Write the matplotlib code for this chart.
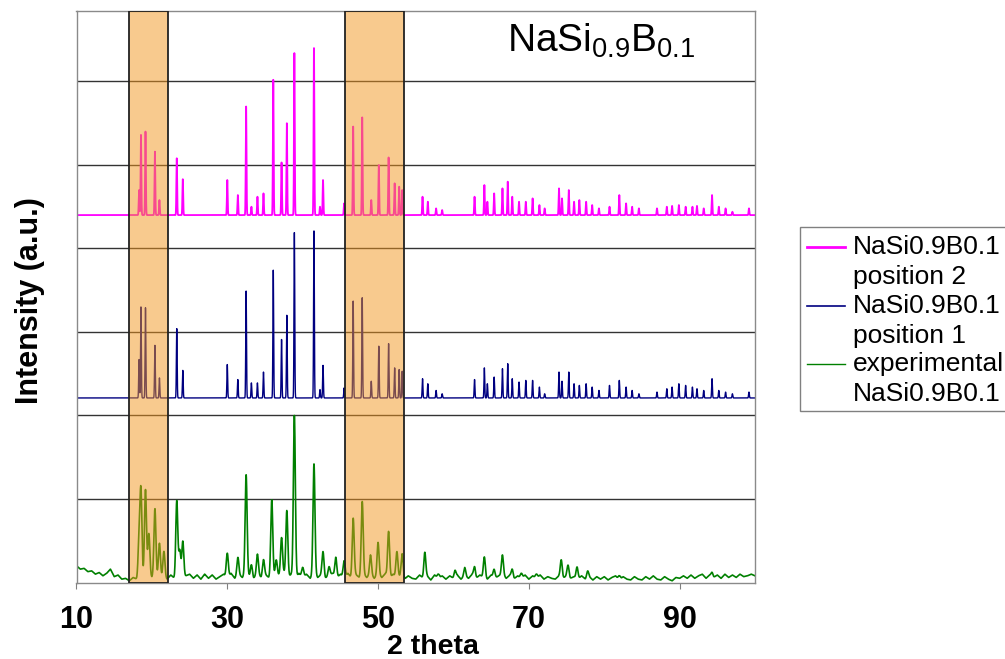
import numpy as np
import matplotlib
matplotlib.use("Agg")
import matplotlib.pyplot as plt
from matplotlib.lines import Line2D
from matplotlib.patches import Rectangle

plt.rcParams["font.family"] = ["Liberation Sans", "DejaVu Sans"]

# ---------------- data ----------------
# reflection positions (2 theta) shared by the two calculated patterns
calc_pos = [18.3, 18.55, 19.15, 20.4, 21.0, 23.3, 24.1, 30.0, 31.4, 32.5,
            33.2, 34.0, 34.8, 36.1, 37.2, 37.9, 38.9, 41.5, 42.3, 42.7,
            45.5, 46.7, 47.9, 49.1, 50.1, 51.4, 52.2, 52.8, 53.2, 55.9,
            56.6, 57.7, 58.5, 62.8, 64.1, 64.5, 65.4, 66.5, 67.2, 67.8,
            68.7, 69.6, 70.5, 71.4, 72.1, 74.0, 74.4, 75.3, 76.0, 76.7,
            77.6, 78.4, 79.3, 80.7, 82.0, 82.9, 83.7, 84.6, 87.0, 88.3,
            89.0, 89.9, 90.8, 91.7, 92.3, 93.2, 94.3, 95.2, 96.1, 97.0,
            99.2]

pos2_int = [0.30, 0.96, 1.00, 0.76, 0.18, 0.68, 0.43, 0.42, 0.24, 1.30,
            0.10, 0.22, 0.26, 1.62, 0.63, 1.10, 1.94, 2.00, 0.10, 0.42,
            0.14, 1.06, 1.17, 0.18, 0.60, 0.69, 0.38, 0.34, 0.30, 0.22,
            0.16, 0.08, 0.06, 0.22, 0.36, 0.16, 0.26, 0.32, 0.40, 0.22,
            0.16, 0.16, 0.20, 0.12, 0.08, 0.32, 0.20, 0.30, 0.16, 0.18,
            0.16, 0.12, 0.08, 0.10, 0.24, 0.14, 0.10, 0.08, 0.08, 0.10,
            0.11, 0.12, 0.10, 0.10, 0.11, 0.08, 0.24, 0.10, 0.08, 0.04,
            0.08]

pos1_int = [0.46, 1.09, 1.08, 0.63, 0.24, 0.83, 0.33, 0.40, 0.22, 1.28,
            0.18, 0.18, 0.31, 1.53, 0.70, 0.99, 1.98, 2.00, 0.10, 0.39,
            0.12, 1.16, 1.20, 0.20, 0.62, 0.65, 0.36, 0.34, 0.32, 0.23,
            0.17, 0.09, 0.05, 0.22, 0.36, 0.17, 0.25, 0.35, 0.41, 0.23,
            0.19, 0.21, 0.21, 0.13, 0.05, 0.31, 0.20, 0.31, 0.17, 0.15,
            0.17, 0.13, 0.09, 0.15, 0.21, 0.13, 0.09, 0.05, 0.07, 0.11,
            0.13, 0.17, 0.15, 0.13, 0.11, 0.09, 0.23, 0.09, 0.07, 0.05,
            0.07]

# measured pattern: peaks
exp_pos = [18.3, 18.55, 19.15, 19.6, 20.4, 21.0, 21.6, 23.3, 23.7, 24.1,
           30.0, 31.4, 32.5, 33.2, 34.0, 34.8, 35.9, 36.5, 37.2, 37.9,
           38.9, 40.0, 41.5, 42.7, 43.5, 44.4, 45.5, 46.7, 47.9, 49.0,
           50.0, 51.4, 52.5, 53.2, 56.2, 58.0, 60.2, 61.5, 62.8, 64.1,
           65.4, 66.5, 67.8, 69.0, 71.0, 74.3, 75.2, 76.4, 77.8, 82.0,
           94.3]
exp_int = [0.45, 1.00, 1.05, 0.50, 0.80, 0.42, 0.30, 0.90, 0.30, 0.43,
           0.29, 0.21, 1.17, 0.15, 0.23, 0.19, 0.89, 0.20, 0.43, 0.79,
           1.94, 0.12, 1.31, 0.29, 0.10, 0.24, 0.20, 0.70, 0.87, 0.23,
           0.38, 0.55, 0.31, 0.28, 0.30, 0.05, 0.08, 0.10, 0.12, 0.25,
           0.10, 0.23, 0.10, 0.06, 0.05, 0.21, 0.14, 0.14, 0.08, 0.05,
           0.05]

# measured pattern: background, every 0.5 deg from 10 to 100
exp_bg = [0.20, 0.16, 0.17, 0.13, 0.14, 0.10, 0.12, 0.08, 0.11, 0.16,
          0.07, 0.09, 0.04, 0.05, 0.02, 0.06, 0.04, 0.08, 0.05, 0.09,
          0.06, 0.09, 0.05, 0.08, 0.04, 0.09, 0.05, 0.10, 0.06, 0.08,
          0.10, 0.05, 0.09, 0.04, 0.10, 0.05, 0.09, 0.04, 0.07, 0.10,
          0.06, 0.11, 0.05, 0.10, 0.06, 0.12, 0.07, 0.05, 0.11, 0.06,
          0.10, 0.06, 0.11, 0.07, 0.10, 0.12, 0.06, 0.10, 0.05, 0.11,
          0.06, 0.10, 0.05, 0.11, 0.06, 0.10, 0.05, 0.09, 0.11, 0.05,
          0.10, 0.06, 0.11, 0.05, 0.10, 0.06, 0.11, 0.06, 0.10, 0.05,
          0.10, 0.06, 0.11, 0.05, 0.10, 0.06, 0.08, 0.04, 0.08, 0.05,
          0.04, 0.09, 0.05, 0.08, 0.03, 0.09, 0.05, 0.08, 0.04, 0.08,
          0.05, 0.09, 0.04, 0.08, 0.05, 0.10, 0.05, 0.09, 0.06, 0.04,
          0.09, 0.05, 0.08, 0.10, 0.05, 0.09, 0.04, 0.08, 0.05, 0.09,
          0.04, 0.08, 0.05, 0.09, 0.04, 0.07, 0.05, 0.04, 0.08, 0.05,
          0.08, 0.05, 0.07, 0.04, 0.08, 0.04, 0.07, 0.03, 0.07, 0.04,
          0.07, 0.03, 0.06, 0.08, 0.03, 0.07, 0.04, 0.03, 0.07, 0.04,
          0.03, 0.07, 0.04, 0.08, 0.04, 0.03, 0.07, 0.04, 0.02, 0.06,
          0.05, 0.08, 0.05, 0.09, 0.05, 0.08, 0.10, 0.05, 0.09, 0.06,
          0.09, 0.05, 0.10, 0.06, 0.09, 0.06, 0.10, 0.07, 0.08, 0.10,
          0.08]

offset_pos2 = 4.40
offset_pos1 = 2.21
regions = [(17.0, 22.2), (45.6, 53.5)]

labels = ["NaSi0.9B0.1\nposition 2", "NaSi0.9B0.1\nposition 1",
          "experimental\nNaSi0.9B0.1"]
colors = ["#ff00ff", "#000080", "#008000"]

# ---------------- profiles ----------------
tt = np.arange(10, 100.001, 0.01)


def profile(pos, inten, sigma):
    y = np.zeros_like(tt)
    for p, h in zip(pos, inten):
        y += h * np.exp(-0.5 * ((tt - p) / sigma) ** 2)
    return y


bg_x = np.arange(10, 100.001, 0.5)
y_pos2 = offset_pos2 + profile(calc_pos, pos2_int, 0.05)
y_pos1 = offset_pos1 + profile(calc_pos, pos1_int, 0.05)
y_exp = np.interp(tt, bg_x, exp_bg) + profile(exp_pos, exp_int, 0.13)

# ---------------- plot ----------------
fig = plt.figure(figsize=(10.05, 6.59), dpi=100)
ax = fig.add_axes([76.5 / 1005, 1 - 582.5 / 659, 678.5 / 1005, 571.5 / 659])

ax.plot(tt, y_pos2, color=colors[0], lw=1.3, zorder=2)
ax.plot(tt, y_pos1, color=colors[1], lw=1.0, zorder=2)
ax.plot(tt, y_exp, color=colors[2], lw=1.2, zorder=2)

for a, b in regions:
    ax.axvspan(a, b, facecolor=(0.953, 0.592, 0.122, 0.5),
               edgecolor="#222222", lw=1.3, zorder=3)

ax.set_xlim(10, 100)
ax.set_ylim(0, 6.844)
ax.set_yticks([1, 2, 3, 4, 5, 6])
ax.yaxis.grid(True, color="#333333", lw=1.0)
ax.set_axisbelow(True)
ax.tick_params(axis="y", left=False, labelleft=False)
ax.set_xticks([10, 30, 50, 70, 90])
ax.tick_params(axis="x", direction="out", length=4, color="#808080",
               labelsize=22, pad=12)
for t in ax.get_xticklabels():
    t.set_fontweight("bold")
for s in ax.spines.values():
    s.set_color("#8a8a8a")
    s.set_linewidth(1.0)

ax.set_xlabel("2 theta", fontsize=20.5, fontweight="bold")
ax.xaxis.set_label_coords(0.526, -0.09)
ax.set_ylabel("Intensity (a.u.)", fontsize=22, fontweight="bold")
ax.yaxis.set_label_coords(-0.047, 0.4926)

fig.text(507 / 1005, 1 - 52 / 659, r"$\mathregular{NaSi_{0.9}B_{0.1}}$",
         fontsize=28, va="baseline", ha="left")

# legend box on the right
fig.patches.append(Rectangle((800 / 1005, 1 - 411 / 659), 215 / 1005,
                             184 / 659, transform=fig.transFigure,
                             facecolor="white", edgecolor="#808080", lw=1.0))
line_y = [247, 306, 364]
widths = [2.0, 1.2, 1.0]
for i, lab in enumerate(labels):
    yf = 1 - line_y[i] / 659
    fig.lines.append(Line2D([807 / 1005, 845 / 1005], [yf, yf],
                            transform=fig.transFigure, color=colors[i],
                            lw=widths[i]))
    first, second = lab.split("\n")
    fig.text(853 / 1005, yf, first, fontsize=19, va="center", ha="left")
    fig.text(853 / 1005, 1 - (line_y[i] + 30) / 659, second, fontsize=19,
             va="center", ha="left")

fig.savefig("out.png", dpi=100)
